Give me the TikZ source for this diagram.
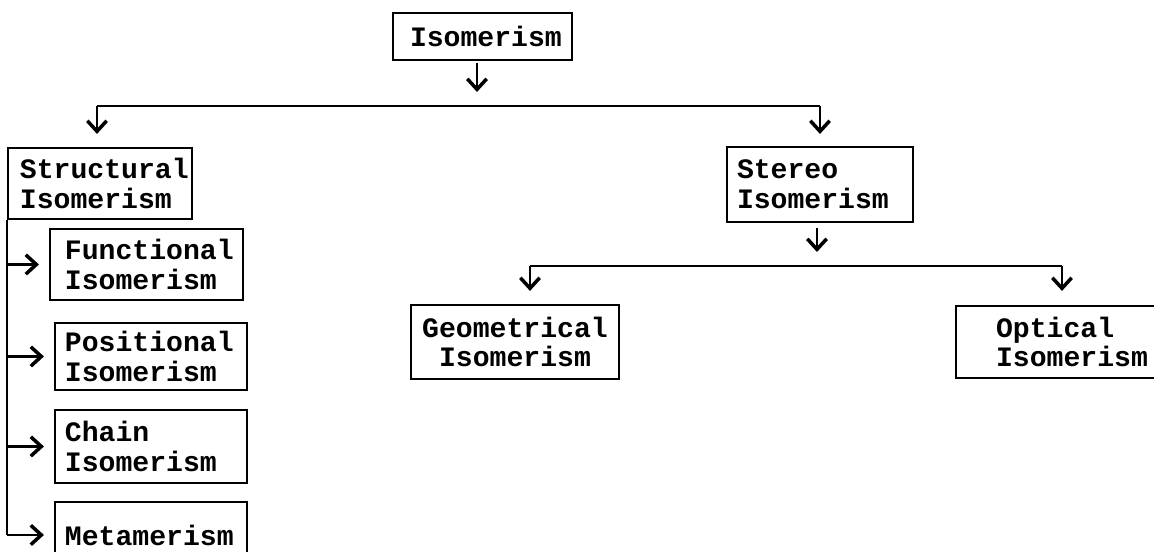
\documentclass[tikz,border=0pt]{standalone}
\usepackage{fontspec}
\newfontfamily\boxfont{Liberation Mono}[BoldFont={* Bold}]
\usetikzlibrary{arrows.meta}
\tikzset{
  box/.style={draw, line width=0.6pt, align=left, inner ysep=0pt,
    font=\boxfont\bfseries\fontsize{8pt}{8.5pt}\selectfont},
  arr/.style={line width=0.8pt, -{Straight Barb[length=3pt,width=5.5pt,line width=1pt]}},
  bus/.style={line width=0.6pt}
}
\begin{document}
\begin{tikzpicture}
        \useasboundingbox (0,0) rectangle (11.54,5.52);
        \node[box, inner xsep=0.17cm, text width=1.45cm, minimum height=0.47cm] (iso) at (4.825,5.155) {Isomerism};
        \node[box, inner xsep=0.12cm, text width=1.60cm, minimum height=0.71cm] (struct) at (1.00,3.685) {Structural\\Isomerism};
        \node[box, inner xsep=0.10cm, text width=1.66cm, minimum height=0.75cm] (stereo) at (8.20,3.675) {Stereo\\Isomerism};
        \node[box, inner xsep=0.15cm, text width=1.63cm, minimum height=0.71cm] (func) at (1.465,2.875) {Functional\\Isomerism};
        \node[box, inner xsep=0.10cm, text width=1.72cm, minimum height=0.67cm] (pos) at (1.51,1.955) {Positional\\Isomerism};
        \node[box, inner xsep=0.10cm, text width=1.72cm, minimum height=0.73cm] (chain) at (1.51,1.055) {Chain\\Isomerism};
        \node[box, inner xsep=0.10cm, text width=1.72cm, minimum height=0.66cm] (meta) at (1.51,0.17) {Metamerism};
        \node[box, align=center, inner xsep=0.10cm, text width=1.88cm, minimum height=0.74cm] (geo) at (5.15,2.10) {Geometrical\\Isomerism};
        \node[box, inner xsep=0.40cm, text width=1.60cm, minimum height=0.72cm, anchor=west] (opt) at (9.55,2.10) {Optical\\Isomerism};
        % bus lines
        \coordinate (busS) at (0.97,4.46);
        \coordinate (busT) at (8.20,4.46);
        \coordinate (busG) at (5.30,2.86);
        \coordinate (busO) at (10.62,2.86);
        \draw[bus] (busS) -- (busT);
        \draw[bus] (busG) -- (busO);
        \draw[arr, shorten <=0.02cm, shorten >=0.14cm] ([xshift=-0.055cm]iso.south) -- ([xshift=-0.055cm]iso.south |- busS);
        \draw[arr, shorten >=0.13cm] (busS) -- (busS |- struct.north);
        \draw[arr, shorten >=0.12cm] (busT) -- (busT |- stereo.north);
        \draw[arr, shorten <=0.05cm, shorten >=0.14cm] ([xshift=-0.03cm]stereo.south) -- ([xshift=-0.03cm]stereo.south |- busG);
        \draw[arr, shorten >=0.13cm] (busG) -- (busG |- geo.north);
        \draw[arr, shorten >=0.14cm] (busO) -- (busO |- opt.north);
        % structural branches
        \draw[bus] (struct.south west) -- (struct.south west |- meta.west);
        \foreach \n in {func,pos,chain,meta}
          \draw[arr, shorten >=0.10cm] (struct.south west |- \n.west) -- (\n.west);
\end{tikzpicture}
\end{document}
